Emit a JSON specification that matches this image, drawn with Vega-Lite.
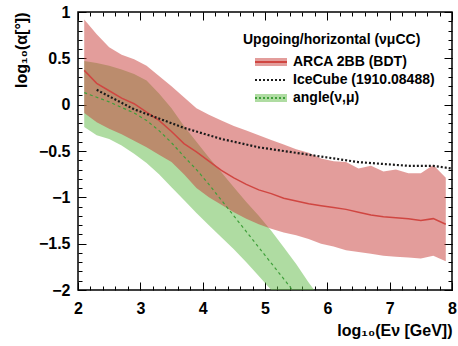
{
  "$schema": "https://vega.github.io/schema/vega-lite/v6.json",
  "width": 374,
  "height": 278,
  "autosize": {"type": "none"},
  "padding": {"left": 78, "top": 12, "right": 6, "bottom": 56},
  "background": "white",
  "config": {
    "view": {"stroke": "#000", "strokeWidth": 1.5},
    "font": "Liberation Sans",
    "axis": {"grid": false, "domain": false, "tickColor": "#000", "tickWidth": 1, "labelColor": "#000", "titleColor": "#000", "zindex": 1},
    "legend": {
      "orient": "none", "legendX": 165, "legendY": 21,
      "titleFontSize": 14, "titleFontWeight": "bold", "titleColor": "#000", "titlePadding": 6,
      "labelFontSize": 14, "labelFontWeight": "bold", "labelColor": "#000", "labelOffset": 13,
      "symbolSize": 256, "symbolOffset": 19, "rowPadding": 1, "symbolOpacity": 1, "symbolStrokeWidth": 2,
      "symbolType": "M-2,0H2V-0.5H-2V0.5H2V0"
    }
  },
  "datasets": {
    "arca": [
      {"E": 2.1, "lo": -0.09, "mid": 0.37, "hi": 0.92},
      {"E": 2.3, "lo": -0.19, "mid": 0.23, "hi": 0.76},
      {"E": 2.5, "lo": -0.26, "mid": 0.15, "hi": 0.62},
      {"E": 2.7, "lo": -0.32, "mid": 0.07, "hi": 0.54},
      {"E": 2.9, "lo": -0.39, "mid": 0.01, "hi": 0.49},
      {"E": 3.1, "lo": -0.46, "mid": -0.08, "hi": 0.42},
      {"E": 3.3, "lo": -0.54, "mid": -0.17, "hi": 0.31},
      {"E": 3.5, "lo": -0.62, "mid": -0.29, "hi": 0.20},
      {"E": 3.7, "lo": -0.75, "mid": -0.42, "hi": 0.08},
      {"E": 3.9, "lo": -0.90, "mid": -0.51, "hi": -0.04},
      {"E": 4.1, "lo": -1.00, "mid": -0.61, "hi": -0.11},
      {"E": 4.3, "lo": -1.08, "mid": -0.71, "hi": -0.17},
      {"E": 4.5, "lo": -1.16, "mid": -0.79, "hi": -0.23},
      {"E": 4.7, "lo": -1.23, "mid": -0.86, "hi": -0.28},
      {"E": 4.9, "lo": -1.29, "mid": -0.92, "hi": -0.33},
      {"E": 5.1, "lo": -1.34, "mid": -0.96, "hi": -0.38},
      {"E": 5.3, "lo": -1.38, "mid": -1.01, "hi": -0.43},
      {"E": 5.5, "lo": -1.41, "mid": -1.04, "hi": -0.48},
      {"E": 5.7, "lo": -1.45, "mid": -1.07, "hi": -0.52},
      {"E": 5.9, "lo": -1.50, "mid": -1.09, "hi": -0.58},
      {"E": 6.1, "lo": -1.53, "mid": -1.11, "hi": -0.61},
      {"E": 6.3, "lo": -1.57, "mid": -1.13, "hi": -0.62},
      {"E": 6.5, "lo": -1.59, "mid": -1.16, "hi": -0.69},
      {"E": 6.7, "lo": -1.61, "mid": -1.19, "hi": -0.66},
      {"E": 6.9, "lo": -1.63, "mid": -1.21, "hi": -0.72},
      {"E": 7.1, "lo": -1.64, "mid": -1.22, "hi": -0.70},
      {"E": 7.3, "lo": -1.65, "mid": -1.23, "hi": -0.74},
      {"E": 7.5, "lo": -1.66, "mid": -1.25, "hi": -0.74},
      {"E": 7.7, "lo": -1.63, "mid": -1.23, "hi": -0.65},
      {"E": 7.9, "lo": -1.69, "mid": -1.29, "hi": -0.79}
    ],
    "angle": [
      {"E": 2.1, "lo": -0.24, "mid": 0.13, "hi": 0.47},
      {"E": 2.3, "lo": -0.33, "mid": 0.08, "hi": 0.45},
      {"E": 2.5, "lo": -0.37, "mid": 0.03, "hi": 0.42},
      {"E": 2.7, "lo": -0.44, "mid": -0.03, "hi": 0.38},
      {"E": 2.9, "lo": -0.53, "mid": -0.09, "hi": 0.33},
      {"E": 3.1, "lo": -0.63, "mid": -0.17, "hi": 0.26},
      {"E": 3.3, "lo": -0.75, "mid": -0.28, "hi": 0.12},
      {"E": 3.5, "lo": -0.89, "mid": -0.41, "hi": -0.04},
      {"E": 3.7, "lo": -1.03, "mid": -0.56, "hi": -0.23},
      {"E": 3.9, "lo": -1.17, "mid": -0.70, "hi": -0.40},
      {"E": 4.1, "lo": -1.30, "mid": -0.86, "hi": -0.57},
      {"E": 4.3, "lo": -1.43, "mid": -1.03, "hi": -0.73},
      {"E": 4.5, "lo": -1.56, "mid": -1.20, "hi": -0.89},
      {"E": 4.7, "lo": -1.70, "mid": -1.37, "hi": -1.05},
      {"E": 4.9, "lo": -1.85, "mid": -1.54, "hi": -1.20},
      {"E": 5.1, "lo": -2.00, "mid": -1.71, "hi": -1.36},
      {"E": 5.3, "lo": -2.15, "mid": -1.88, "hi": -1.54},
      {"E": 5.5, "lo": -2.30, "mid": -2.05, "hi": -1.72},
      {"E": 5.7, "lo": -2.45, "mid": -2.22, "hi": -1.92},
      {"E": 5.9, "lo": -2.60, "mid": -2.40, "hi": -2.10}
    ],
    "icecube": [
      {"E": 2.3, "v": 0.16},
      {"E": 2.5, "v": 0.09},
      {"E": 2.7, "v": 0.02},
      {"E": 2.9, "v": -0.05},
      {"E": 3.1, "v": -0.10},
      {"E": 3.3, "v": -0.15},
      {"E": 3.5, "v": -0.20},
      {"E": 3.7, "v": -0.25},
      {"E": 3.9, "v": -0.29},
      {"E": 4.1, "v": -0.33},
      {"E": 4.3, "v": -0.37},
      {"E": 4.5, "v": -0.40},
      {"E": 4.7, "v": -0.43},
      {"E": 4.9, "v": -0.46},
      {"E": 5.1, "v": -0.48},
      {"E": 5.3, "v": -0.50},
      {"E": 5.5, "v": -0.52},
      {"E": 5.7, "v": -0.54},
      {"E": 5.9, "v": -0.56},
      {"E": 6.1, "v": -0.58},
      {"E": 6.3, "v": -0.60},
      {"E": 6.5, "v": -0.62},
      {"E": 6.7, "v": -0.63},
      {"E": 6.9, "v": -0.64},
      {"E": 7.1, "v": -0.65},
      {"E": 7.3, "v": -0.66},
      {"E": 7.5, "v": -0.66},
      {"E": 7.7, "v": -0.66},
      {"E": 7.9, "v": -0.68},
      {"E": 8.0, "v": -0.69}
    ]
  },
  "resolve": {"axis": {"x": "independent", "y": "independent"}},
  "layer": [
    {
      "data": {"name": "angle"},
      "mark": {"type": "area", "color": "#5fb946", "opacity": 0.5, "clip": true},
      "encoding": {
        "x": {"field": "E", "type": "quantitative", "scale": {"domain": [2, 8], "nice": false, "zero": false},
          "axis": {"orient": "bottom", "values": [2, 3, 4, 5, 6, 7, 8], "ticks": false, "format": "d", "labelFontSize": 16, "labelFontWeight": "bold", "labelPadding": 10, "labelFlush": false,
            "title": "log₁₀(Eν [GeV])", "titleAnchor": "end", "titleFontSize": 16, "titleFontWeight": "bold", "titlePadding": 6}},
        "y": {"field": "lo", "type": "quantitative", "scale": {"domain": [-2, 1], "nice": false, "zero": false},
          "axis": {"orient": "left", "values": [-2, -1.5, -1, -0.5, 0, 0.5, 1], "ticks": false, "format": "~g", "labelFontSize": 16, "labelFontWeight": "bold", "labelPadding": 8, "labelFlush": false,
            "title": "log₁₀(α[°])", "titleAnchor": "end", "titleFontSize": 16, "titleFontWeight": "bold", "titlePadding": 9}},
        "y2": {"field": "hi"}
      }
    },
    {
      "data": {"name": "arca"},
      "mark": {"type": "area", "color": "#c83c37", "opacity": 0.5, "clip": true},
      "encoding": {
        "x": {"field": "E", "type": "quantitative", "scale": {"domain": [2, 8], "nice": false, "zero": false},
          "axis": {"orient": "bottom", "values": [2, 3, 4, 5, 6, 7, 8], "labels": false, "tickSize": -8, "title": null}},
        "y": {"field": "lo", "type": "quantitative", "scale": {"domain": [-2, 1], "nice": false, "zero": false},
          "axis": {"orient": "left", "values": [-2, -1.5, -1, -0.5, 0, 0.5, 1], "labels": false, "tickSize": -8, "title": null}},
        "y2": {"field": "hi"}
      }
    },
    {
      "data": {"name": "angle"},
      "mark": {"type": "line", "color": "#3f9f3a", "strokeWidth": 1.2, "strokeDash": [3, 3], "clip": true},
      "encoding": {
        "x": {"field": "E", "type": "quantitative", "scale": {"domain": [2, 8], "nice": false, "zero": false},
          "axis": {"orient": "bottom", "values": [2, 2.2, 2.4, 2.6, 2.8, 3, 3.2, 3.4, 3.6, 3.8, 4, 4.2, 4.4, 4.6, 4.8, 5, 5.2, 5.4, 5.6, 5.8, 6, 6.2, 6.4, 6.6, 6.8, 7, 7.2, 7.4, 7.6, 7.8, 8], "labels": false, "tickSize": -4, "title": null}},
        "y": {"field": "mid", "type": "quantitative", "scale": {"domain": [-2, 1], "nice": false, "zero": false},
          "axis": {"orient": "left", "values": [-2, -1.9, -1.8, -1.7, -1.6, -1.5, -1.4, -1.3, -1.2, -1.1, -1, -0.9, -0.8, -0.7, -0.6, -0.5, -0.4, -0.3, -0.2, -0.1, 0, 0.1, 0.2, 0.3, 0.4, 0.5, 0.6, 0.7, 0.8, 0.9, 1], "labels": false, "tickSize": -4, "title": null}}
      }
    },
    {
      "data": {"name": "arca"},
      "mark": {"type": "line", "color": "#d04641", "strokeWidth": 1.5, "clip": true},
      "encoding": {
        "x": {"field": "E", "type": "quantitative", "scale": {"domain": [2, 8], "nice": false, "zero": false},
          "axis": {"orient": "top", "values": [2, 3, 4, 5, 6, 7, 8], "labels": false, "tickSize": -8, "title": null}},
        "y": {"field": "mid", "type": "quantitative", "scale": {"domain": [-2, 1], "nice": false, "zero": false},
          "axis": {"orient": "right", "values": [-2, -1.5, -1, -0.5, 0, 0.5, 1], "labels": false, "tickSize": -8, "title": null}}
      }
    },
    {
      "data": {"name": "icecube"},
      "mark": {"type": "line", "color": "#1a1a1a", "strokeWidth": 2.2, "strokeDash": [2, 2], "clip": true},
      "encoding": {
        "x": {"field": "E", "type": "quantitative", "scale": {"domain": [2, 8], "nice": false, "zero": false},
          "axis": {"orient": "top", "values": [2, 2.2, 2.4, 2.6, 2.8, 3, 3.2, 3.4, 3.6, 3.8, 4, 4.2, 4.4, 4.6, 4.8, 5, 5.2, 5.4, 5.6, 5.8, 6, 6.2, 6.4, 6.6, 6.8, 7, 7.2, 7.4, 7.6, 7.8, 8], "labels": false, "tickSize": -4, "title": null}},
        "y": {"field": "v", "type": "quantitative", "scale": {"domain": [-2, 1], "nice": false, "zero": false},
          "axis": {"orient": "right", "values": [-2, -1.9, -1.8, -1.7, -1.6, -1.5, -1.4, -1.3, -1.2, -1.1, -1, -0.9, -0.8, -0.7, -0.6, -0.5, -0.4, -0.3, -0.2, -0.1, 0, 0.1, 0.2, 0.3, 0.4, 0.5, 0.6, 0.7, 0.8, 0.9, 1], "labels": false, "tickSize": -4, "title": null}}
      }
    },
    {
      "data": {"name": "icecube"},
      "mark": {"type": "line", "opacity": 0, "strokeWidth": 2, "clip": true},
      "encoding": {
        "x": {"field": "E", "type": "quantitative", "axis": null},
        "y": {"field": "v", "type": "quantitative", "axis": null},
        "stroke": {
          "datum": "IceCube (1910.08488)",
          "scale": {"domain": ["ARCA 2BB (BDT)", "IceCube (1910.08488)", "angle(ν,μ)"], "range": ["#d04641", "#1a1a1a", "#3f9f3a"]},
          "legend": {"title": "Upgoing/horizontal (νμCC)"}
        },
        "fill": {
          "datum": "IceCube (1910.08488)",
          "scale": {"domain": ["ARCA 2BB (BDT)", "IceCube (1910.08488)", "angle(ν,μ)"], "range": ["rgba(200,60,55,0.5)", "transparent", "rgba(95,185,70,0.5)"]},
          "legend": {"title": "Upgoing/horizontal (νμCC)"}
        },
        "strokeDash": {
          "datum": "IceCube (1910.08488)",
          "scale": {"domain": ["ARCA 2BB (BDT)", "IceCube (1910.08488)", "angle(ν,μ)"], "range": [[32, 1000], [2, 2, 2, 2, 2, 2, 2, 2, 2, 2, 2, 2, 2, 2, 2, 2, 0, 1000], [2, 2, 2, 2, 2, 2, 2, 2, 2, 2, 2, 2, 2, 2, 2, 2, 0, 1000]]},
          "legend": {"title": "Upgoing/horizontal (νμCC)"}
        }
      }
    }
  ]
}
